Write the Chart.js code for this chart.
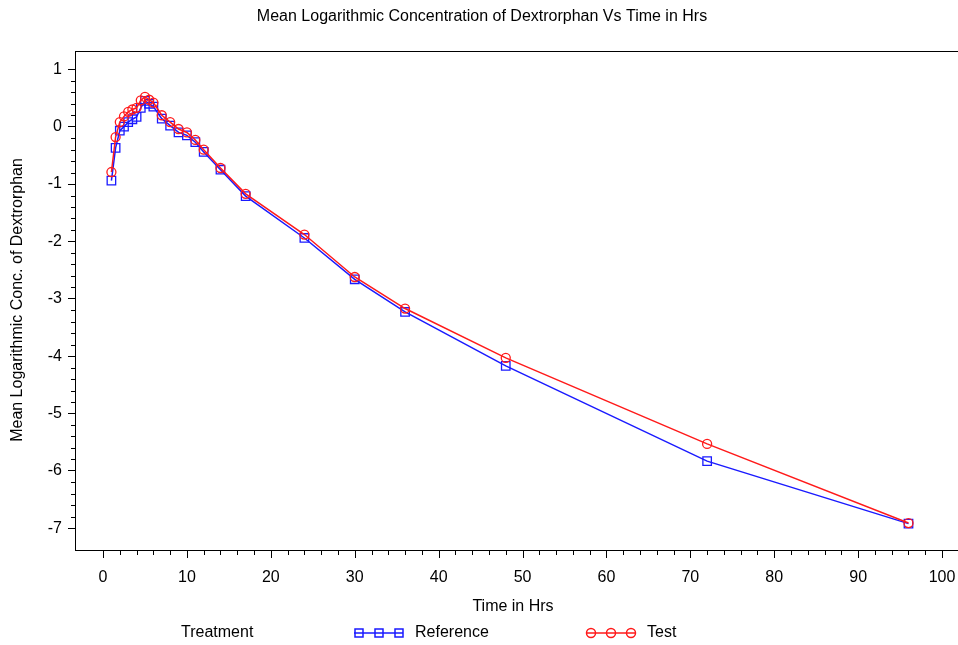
<!DOCTYPE html>
<html>
<head>
<meta charset="utf-8">
<script src="https://cdn.jsdelivr.net/npm/chart.js@4.4.0/dist/chart.umd.min.js"></script>
<style>
  html, body { margin: 0; padding: 0; background: #fff; }
  canvas { display: block; }
</style>
</head>
<body>
<canvas id="chart" width="958" height="645"></canvas>
<script>
// Tiempos de muestreo (h) y medias de log-concentración
const times = [1, 1.5, 2, 2.5, 3, 3.5, 4, 4.5, 5, 5.5, 6, 7, 8, 9, 10, 11, 12, 14, 17, 24, 30, 36, 48, 72, 96];
const refValues = [-0.94, -0.37, -0.07, 0.00, 0.08, 0.13, 0.17, 0.33, 0.45, 0.40, 0.35, 0.14, 0.02, -0.10, -0.15, -0.27, -0.44, -0.75, -1.21, -1.94, -2.66, -3.23, -4.17, -5.83, -6.92];
const testValues = [-0.79, -0.18, 0.08, 0.18, 0.26, 0.30, 0.33, 0.46, 0.52, 0.47, 0.42, 0.20, 0.08, -0.04, -0.10, -0.23, -0.40, -0.72, -1.17, -1.88, -2.62, -3.17, -4.03, -5.53, -6.91];

const xTicks = [0, 10, 20, 30, 40, 50, 60, 70, 80, 90, 100];
const yTicks = [1, 0, -1, -2, -3, -4, -5, -6, -7];

const chartTitle = 'Mean Logarithmic Concentration of Dextrorphan Vs Time in Hrs';
const xTitle = 'Time in Hrs';
const yTitle = 'Mean Logarithmic Conc. of Dextrorphan';
const legendTitle = 'Treatment';
const seriesNames = ['Reference', 'Test'];

const BLUE = '#1a1aff';
const RED = '#ff1a1a';
const FONT = "'Liberation Sans', Arial, sans-serif";

// Marco, ticks menores, etiquetas del eje X, títulos y leyenda estilo SAS
const decorations = {
  id: 'decorations',
  afterDraw(chart) {
    const { ctx, chartArea: a, scales: { x, y } } = chart;
    ctx.save();
    ctx.strokeStyle = '#000';
    ctx.lineWidth = 1;
    // el marco sigue hasta el borde derecho (recortado como en el original)
    ctx.strokeRect(a.left + 0.5, a.top + 0.5, chart.width + 2 - a.left, a.bottom - a.top);

    // ticks (mayores del eje X y menores de ambos)
    ctx.beginPath();
    for (let k = yTicks[yTicks.length - 1]; k < yTicks[0]; k++) {
      for (let j = 1; j < 5; j++) {
        const py = Math.round(y.getPixelForValue(k + j * 0.2)) + 0.5;
        ctx.moveTo(a.left - 4, py); ctx.lineTo(a.left, py);
      }
    }
    xTicks.forEach(v => {
      const px = Math.round(x.getPixelForValue(v)) + 0.5;
      ctx.moveTo(px, a.bottom); ctx.lineTo(px, a.bottom + 8);
    });
    for (let k = xTicks[0]; k < xTicks[xTicks.length - 1]; k += 10) {
      for (let j = 1; j < 5; j++) {
        const px = Math.round(x.getPixelForValue(k + j * 2)) + 0.5;
        ctx.moveTo(px, a.bottom); ctx.lineTo(px, a.bottom + 5);
      }
    }
    ctx.stroke();

    ctx.fillStyle = '#000';
    ctx.textBaseline = 'middle';
    ctx.textAlign = 'center';
    ctx.font = `16px ${FONT}`;
    xTicks.forEach(v => ctx.fillText(String(v), x.getPixelForValue(v), 578));

    ctx.fillText(chartTitle, 482, 17);
    ctx.fillText(xTitle, 513, 607);

    ctx.save();
    ctx.translate(18, 300);
    ctx.rotate(-Math.PI / 2);
    ctx.fillText(yTitle, 0, 0);
    ctx.restore();

    // leyenda
    const ly = 633;
    ctx.textAlign = 'left';
    ctx.fillText(legendTitle, 181, ly);
    ctx.fillText(seriesNames[0], 415, ly);
    ctx.fillText(seriesNames[1], 647, ly);

    ctx.lineWidth = 1.5;
    ctx.strokeStyle = BLUE;
    ctx.beginPath(); ctx.moveTo(354, ly); ctx.lineTo(403, ly); ctx.stroke();
    [359, 379, 399].forEach(cx => ctx.strokeRect(cx - 4, ly - 4, 8, 8));

    ctx.strokeStyle = RED;
    ctx.beginPath(); ctx.moveTo(586, ly); ctx.lineTo(636, ly); ctx.stroke();
    [591, 611, 631].forEach(cx => { ctx.beginPath(); ctx.arc(cx, ly, 4.5, 0, Math.PI * 2); ctx.stroke(); });
    ctx.restore();
  }
};

const toPoints = vals => times.map((t, i) => ({ x: t, y: vals[i] }));

new Chart(document.getElementById('chart'), {
  type: 'line',
  data: {
    datasets: [
      {
        label: seriesNames[1],
        data: toPoints(testValues),
        borderColor: RED,
        borderWidth: 1.5,
        pointStyle: 'circle',
        pointRadius: 4.5,
        pointBorderWidth: 1.3,
        pointBorderColor: RED,
        pointBackgroundColor: 'rgba(0,0,0,0)',
        tension: 0,
        order: 0,
      },
      {
        label: seriesNames[0],
        data: toPoints(refValues),
        borderColor: BLUE,
        borderWidth: 1.5,
        pointStyle: 'rect',
        pointRadius: 6,
        pointBorderWidth: 1.3,
        pointBorderColor: BLUE,
        pointBackgroundColor: 'rgba(0,0,0,0)',
        tension: 0,
        order: 1,
      },
    ],
  },
  options: {
    responsive: false,
    animation: false,
    layout: { autoPadding: false, padding: { top: 51, right: 0, left: 0, bottom: 0 } },
    plugins: { legend: { display: false }, tooltip: { enabled: false }, title: { display: false } },
    scales: {
      x: {
        type: 'linear',
        min: -3.34,
        max: 101.9,
        afterBuildTicks: s => { s.ticks = xTicks.map(v => ({ value: v })); },
        afterFit: s => { s.height = 95; },
        grid: { display: false },
        border: { display: true, color: '#000' },
        ticks: { display: false },
      },
      y: {
        type: 'linear',
        min: -7.38,
        max: 1.32,
        afterBuildTicks: s => { s.ticks = yTicks.map(v => ({ value: v })); },
        afterFit: s => { s.width = 75; },
        grid: { drawOnChartArea: false, tickLength: 7, color: '#000', tickColor: '#000' },
        border: { display: true, color: '#000' },
        ticks: { color: '#000', font: { family: FONT, size: 16 }, padding: 6, autoSkip: false },
      },
    },
  },
  plugins: [decorations],
});
</script>
</body>
</html>
